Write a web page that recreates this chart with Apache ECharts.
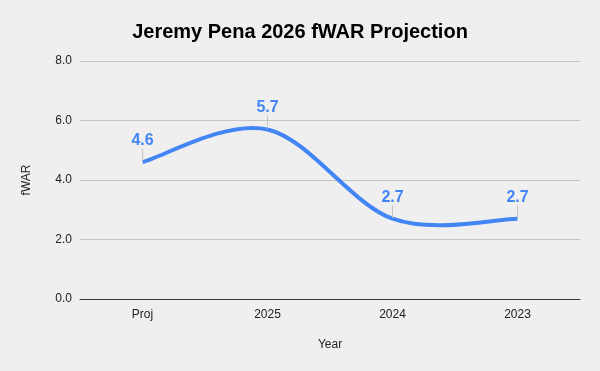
<!DOCTYPE html>
<html><head><meta charset="utf-8">
<script src="https://cdn.jsdelivr.net/npm/echarts@6/dist/echarts.min.js"></script>
<style>html,body{margin:0;padding:0;background:#efefef}#c{width:600px;height:371px}</style>
</head><body><div id="c"></div>
<script>
const categories = ['Proj', '2025', '2024', '2023'];
const fwar = [4.6, 5.7, 2.7, 2.7];
const yTicks = [0, 2, 4, 6, 8];

const chart = echarts.init(document.getElementById('c'));

function curveItem(params, api) {
  const pts = fwar.map((v, i) => api.coord([i, v]));
  const n = pts.length;
  let d = 'M' + pts[0][0] + ' ' + pts[0][1];
  for (let i = 0; i < n - 1; i++) {
    const p0 = pts[Math.max(i - 1, 0)], p1 = pts[i], p2 = pts[i + 1], p3 = pts[Math.min(i + 2, n - 1)];
    const c1 = [p1[0] + (p2[0] - p0[0]) / 6, p1[1] + (p2[1] - p0[1]) / 6];
    const c2 = [p2[0] - (p3[0] - p1[0]) / 6, p2[1] - (p3[1] - p1[1]) / 6];
    d += ' C' + c1[0] + ' ' + c1[1] + ' ' + c2[0] + ' ' + c2[1] + ' ' + p2[0] + ' ' + p2[1];
  }
  return {
    type: 'path',
    shape: { pathData: d },
    style: { fill: 'none', stroke: '#4285f4', lineWidth: 4, lineCap: 'butt', lineJoin: 'round' }
  };
}

chart.setOption({
  backgroundColor: '#efefef',
  textStyle: { fontFamily: 'Liberation Sans, Arial, sans-serif' },
  title: {
    text: 'Jeremy Pena 2026 fWAR Projection',
    left: 'center', top: 17,
    textStyle: { fontSize: 20, fontWeight: 'bold', color: '#000', fontFamily: 'Liberation Sans, Arial, sans-serif' }
  },
  grid: { left: 80, right: 20, top: 61, bottom: 72 },
  xAxis: {
    type: 'category', data: categories,
    name: 'Year', nameLocation: 'middle', nameGap: 40,
    nameTextStyle: { fontSize: 12, color: '#222' },
    axisLine: { lineStyle: { color: '#333', width: 1 } },
    axisTick: { show: false },
    axisLabel: { fontSize: 12, color: '#222', margin: 10 }
  },
  yAxis: {
    type: 'value', min: yTicks[0], max: yTicks[yTicks.length - 1], interval: 2,
    name: 'fWAR', nameLocation: 'middle', nameGap: 47,
    nameTextStyle: { fontSize: 12, color: '#222' },
    axisLine: { show: false }, axisTick: { show: false },
    axisLabel: { fontSize: 12, color: '#222', margin: 8, formatter: v => v.toFixed(1) },
    splitLine: { lineStyle: { color: '#c4c4c4' } }
  },
  series: [{
    type: 'custom',
    data: [0],
    renderItem: curveItem,
    silent: true,
    z: 2
  }, {
    type: 'line', data: fwar,
    symbol: 'circle', symbolSize: 1, showSymbol: true,
    lineStyle: { opacity: 0, width: 0 },
    itemStyle: { color: 'rgba(66,133,244,0)' },
    label: {
      show: true, position: 'top', distance: 2,
      color: '#4285f4', fontSize: 16, fontWeight: 'bold',
      formatter: p => p.value.toFixed(1)
    },
    labelLayout: { dy: -11 },
    labelLine: { show: true, lineStyle: { color: '#c4c4c4', width: 1 } },
    z: 3
  }]
});
</script></body></html>
